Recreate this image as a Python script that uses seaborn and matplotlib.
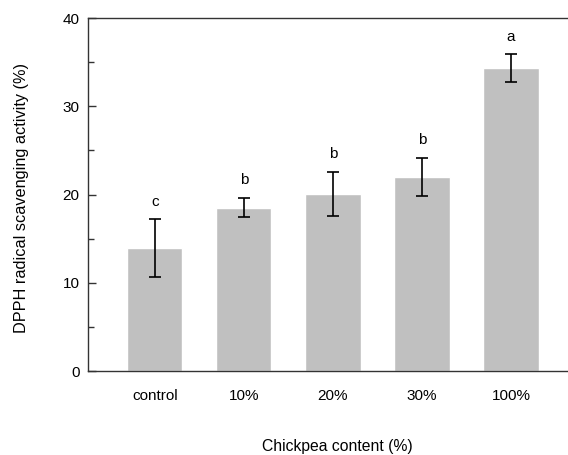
import matplotlib
matplotlib.use("Agg")
import matplotlib.pyplot as plt
from matplotlib.ticker import MultipleLocator
import seaborn as sns
import pandas as pd

categories = ["control", "10%", "20%", "30%", "100%"]
means = [13.9, 18.5, 20.1, 22.0, 34.3]
errors = [3.3, 1.1, 2.5, 2.15, 1.6]
letters = ["c", "b", "b", "b", "a"]

sns.set_theme(style="white")
plt.rcParams['font.family'] = ['Liberation Sans', 'DejaVu Sans']
plt.rcParams['text.color'] = 'black'
plt.rcParams['axes.labelcolor'] = 'black'
plt.rcParams['xtick.labelcolor'] = 'black'
plt.rcParams['ytick.labelcolor'] = 'black'

df = pd.DataFrame({"cat": categories, "mean": means, "err": errors})

fig = plt.figure(figsize=(5.68, 4.55), dpi=100)
ax = fig.add_axes([0.155, 0.1846, 0.845, 0.7758])

sns.barplot(data=df, x="cat", y="mean", color="#c0c0c0", saturation=1,
            width=0.62, ax=ax, errorbar=None)
ax.errorbar(df["cat"], df["mean"], yerr=df["err"], fmt="none",
            ecolor="black", elinewidth=1.2, capsize=4, capthick=1.2)
for i, (m, e, l) in enumerate(zip(means, errors, letters)):
    ax.text(i, m + e + 2.0, l, ha="center", va="center", fontsize=11, color="black")

ax.set_xlim(-0.75, 4.64)
ax.set_ylim(0, 40)
ax.yaxis.set_major_locator(MultipleLocator(10))
ax.yaxis.set_minor_locator(MultipleLocator(5))
ax.tick_params(axis="y", which="major", direction="in", length=6, width=1,
               color="#333333", labelsize=11, pad=6, left=True, labelcolor="black")
ax.tick_params(axis="y", which="minor", direction="in", length=4, width=1,
               color="#333333", left=True)
ax.tick_params(axis="x", length=0, labelsize=11, pad=13, labelcolor="black")

for s in ["left", "top", "bottom"]:
    ax.spines[s].set_visible(True)
    ax.spines[s].set_color("#333333")
    ax.spines[s].set_linewidth(1)
ax.spines["right"].set_visible(False)

ax.set_xlabel("Chickpea content (%)", fontsize=11.3, va="center", color="black")
ax.xaxis.set_label_coords(0.519, -0.2125)
ax.set_ylabel("DPPH radical scavenging activity (%)", fontsize=11.7, va="center", color="black")
ax.yaxis.set_label_coords(-0.138, 0.49)

fig.savefig("out.png", dpi=100)
